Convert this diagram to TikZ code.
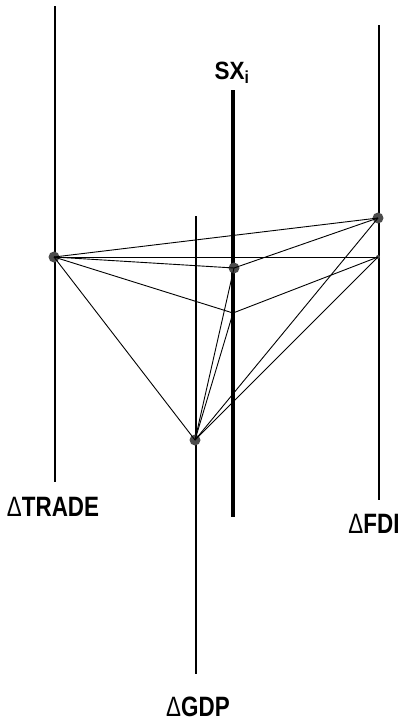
\documentclass[tikz,border=0pt]{standalone}
\usepackage{fontspec}
\setmainfont{Liberation Sans}
\begin{document}
\begin{tikzpicture}[x=1pt,y=-1pt,
  axis/.style={line width=1.5pt},
  link/.style={line width=0.9pt},
  dot/.style={circle,fill=black!70,inner sep=0pt,minimum size=11pt},
  lbl/.style={font=\fontsize{28}{28}\selectfont\bfseries}]
\useasboundingbox (0,0) rectangle (400,724);

% Axes
\coordinate (tradetop) at (55,6);
\coordinate (tradebot) at (55,482);
\coordinate (fditop) at (379,25);
\coordinate (fdibot) at (379,500);
\coordinate (sxtop) at (233,90);
\coordinate (sxbot) at (233,517);
\coordinate (gdptop) at (196,216);
\coordinate (gdpbot) at (196,674);
\draw[axis] (tradetop) -- (tradebot);
\draw[axis] (fditop) -- (fdibot);
\draw[axis] (gdptop) -- (gdpbot);
\draw[line width=3.6pt] (sxtop) -- (sxbot);

% Points on the axes
\node[dot] (T) at (54,257) {};
\node[dot] (S) at (234,268) {};
\node[dot] (F) at (378,218) {};
\node[dot] (G) at (195,440) {};
\node[circle,fill=black!70,inner sep=0pt,minimum size=4pt] (F2) at (378,257) {};
\coordinate (M) at (233,313);

% First set of links
\draw[link] (T.center) -- (F.center);
\draw[link] (T.center) -- (S.center);
\draw[link] (S.center) -- (F.center);
\draw[link] (G.center) -- (S.center);
\draw[link] (G.center) -- (F.center);
\draw[link] (G.center) -- (T.center);

% Second set of links
\draw[link] (T.center) -- (F2.center);
\draw[link] (T.center) -- (M);
\draw[link] (M) -- (F2.center);
\draw[link] (G.center) -- (M);
\draw[link] (G.center) -- (F2.center);

% Labels
\node[font=\fontsize{25}{25}\selectfont\bfseries] (sx) at (232,73) {\scalebox{0.9}[1]{SX\textsubscript{i}}};
\node[lbl] (trade) at (53,507) {\scalebox{0.8}[1]{{\mdseries Δ}TRADE}};
\node[lbl] (fdi) at (374,524) {\scalebox{0.8}[1]{{\mdseries Δ}FDI}};
\node[lbl] (gdp) at (198,707) {\scalebox{0.8}[1]{{\mdseries Δ}GDP}};
\end{tikzpicture}
\end{document}
